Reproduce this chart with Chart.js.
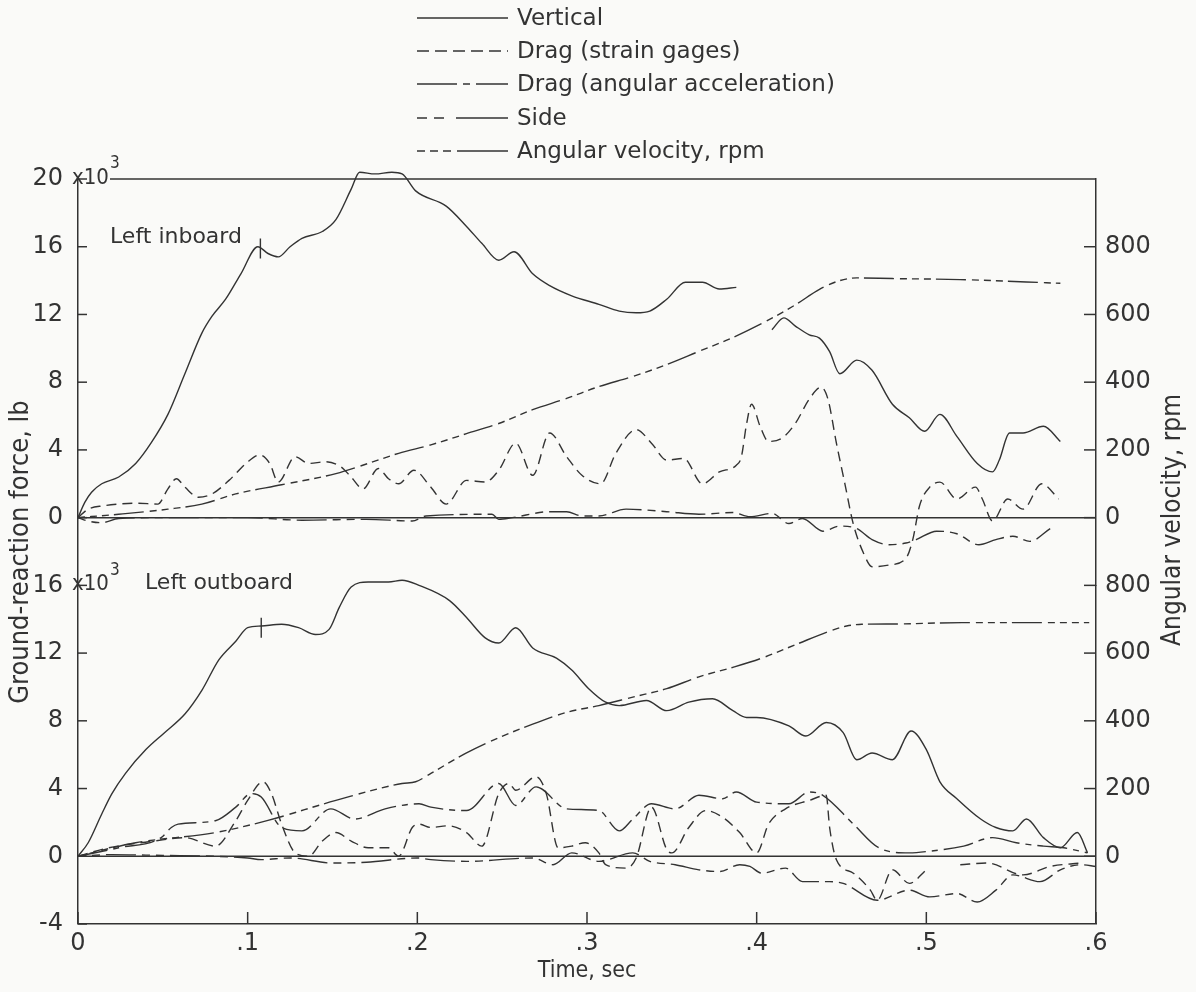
<!DOCTYPE html>
<html><head><meta charset="utf-8">
<style>html,body{margin:0;padding:0;background:#fafaf8;}canvas{display:block;}</style>
<script src="https://cdn.jsdelivr.net/npm/chart.js@4.4.1/dist/chart.umd.min.js"></script>
</head><body>
<canvas id="c" width="1196" height="992"></canvas>
<script>
// ---------- tick labels ----------
const timeTicks = [0, 0.1, 0.2, 0.3, 0.4, 0.5, 0.6];
const timeTickLabels = ['0', '.1', '.2', '.3', '.4', '.5', '.6'];
const forceTicksTop = [0, 4, 8, 12, 16, 20];
const forceTicksBottom = [-4, 0, 4, 8, 12, 16];
const rpmTicks = [0, 200, 400, 600, 800];
const seriesNames = ['Vertical', 'Drag (strain gages)', 'Drag (angular acceleration)', 'Side', 'Angular velocity, rpm'];
const panelLabels = ['Left inboard', 'Left outboard'];

// ---------- top panel (Left inboard): [time s, force 10^3 lb] ----------
const inVertical = [[0,0],[0.004,0.9],[0.008,1.5],[0.014,2.0],[0.024,2.4],[0.034,3.2],[0.043,4.4],[0.053,6.1],[0.063,8.5],[0.073,10.9],[0.079,11.9],[0.087,12.9],[0.096,14.4],[0.106,16.0],[0.112,15.6],[0.118,15.4],[0.125,16.0],[0.132,16.5],[0.144,16.9],[0.152,17.6],[0.161,19.4],[0.166,20.4],[0.175,20.3],[0.185,20.4],[0.191,20.3],[0.199,19.3],[0.217,18.4],[0.229,17.2],[0.238,16.2],[0.248,15.2],[0.257,15.7],[0.268,14.4],[0.278,13.7],[0.291,13.1],[0.307,12.6],[0.319,12.2],[0.329,12.1],[0.337,12.2],[0.347,12.9],[0.358,13.9],[0.368,13.9],[0.378,13.5],[0.388,13.6],[0.398,null],[0.409,11.1],[0.416,11.8],[0.423,11.3],[0.431,10.8],[0.437,10.6],[0.443,9.8],[0.449,8.5],[0.459,9.3],[0.468,8.7],[0.480,6.7],[0.490,5.9],[0.499,5.1],[0.508,6.1],[0.518,4.8],[0.530,3.2],[0.539,2.7],[0.543,3.4],[0.549,5.0],[0.557,5.0],[0.569,5.4],[0.579,4.5]];
const inDragStrain = [[0,0],[0.006,0.5],[0.015,0.7],[0.024,0.8],[0.035,0.85],[0.047,0.8],[0.053,1.7],[0.058,2.3],[0.063,1.8],[0.071,1.2],[0.079,1.4],[0.089,2.2],[0.099,3.2],[0.107,3.7],[0.113,3.2],[0.118,2.1],[0.128,3.6],[0.136,3.2],[0.146,3.3],[0.155,3.0],[0.161,2.4],[0.168,1.7],[0.177,2.9],[0.183,2.3],[0.189,2.0],[0.198,2.8],[0.208,1.8],[0.217,0.8],[0.229,2.2],[0.240,2.1],[0.248,2.8],[0.258,4.4],[0.268,2.5],[0.278,5.0],[0.288,3.6],[0.297,2.5],[0.308,2.0],[0.317,3.8],[0.329,5.2],[0.338,4.4],[0.347,3.4],[0.357,3.5],[0.368,2.0],[0.378,2.7],[0.388,3.1],[0.391,3.6],[0.394,5.5],[0.397,6.7],[0.402,5.4],[0.407,4.5],[0.415,4.7],[0.423,5.6],[0.431,7.0],[0.438,7.7],[0.442,7.0],[0.447,4.4],[0.452,2.0],[0.457,-0.4],[0.463,-2.1],[0.468,-2.9],[0.478,-2.8],[0.488,-2.4],[0.492,-1.3],[0.496,0.7],[0.502,1.8],[0.508,2.1],[0.518,1.1],[0.529,1.8],[0.533,1.1],[0.539,-0.2],[0.548,1.1],[0.557,0.5],[0.568,2.0],[0.578,1.1]];
const inSide = [[0,0],[0.006,-0.2],[0.014,-0.3],[0.024,-0.05],[0.05,0],[0.1,0],[0.132,-0.15],[0.17,-0.1],[0.197,-0.2],[0.205,0.1],[0.244,0.2],[0.248,-0.1],[0.256,0],[0.278,0.35],[0.288,0.35],[0.297,0.1],[0.307,0.1],[0.323,0.5],[0.347,0.35],[0.366,0.2],[0.386,0.3],[0.396,0.05],[0.409,0.25],[0.419,-0.35],[0.427,-0.05],[0.439,-0.8],[0.449,-0.5],[0.459,-0.65],[0.468,-1.3],[0.478,-1.6],[0.488,-1.5],[0.494,-1.3],[0.506,-0.8],[0.518,-0.95],[0.531,-1.6],[0.541,-1.3],[0.551,-1.1],[0.561,-1.4],[0.573,-0.65]];
const inRpm = [[0,0],[0.024,10],[0.053,25],[0.073,40],[0.093,70],[0.12,97],[0.152,130],[0.171,160],[0.189,190],[0.208,215],[0.229,248],[0.248,278],[0.268,319],[0.288,352],[0.307,387],[0.327,417],[0.347,452],[0.366,491],[0.386,532],[0.403,573],[0.423,629],[0.437,674],[0.449,700],[0.459,708],[0.48,706],[0.52,703],[0.579,692]];
const inMarker = [[0.1075,15.9]];

// ---------- bottom panel (Left outboard) ----------
const outVertical = [[0,0],[0.006,0.8],[0.014,2.5],[0.02,3.7],[0.028,4.9],[0.04,6.3],[0.051,7.3],[0.063,8.4],[0.073,9.8],[0.083,11.6],[0.093,12.7],[0.1,13.5],[0.108,13.6],[0.12,13.7],[0.13,13.5],[0.14,13.1],[0.148,13.4],[0.154,14.7],[0.161,15.9],[0.171,16.2],[0.183,16.2],[0.191,16.3],[0.201,16.0],[0.219,15.1],[0.229,14.1],[0.240,12.9],[0.248,12.6],[0.258,13.5],[0.268,12.3],[0.282,11.7],[0.291,11.0],[0.301,9.9],[0.311,9.1],[0.319,8.9],[0.335,9.2],[0.347,8.6],[0.360,9.1],[0.374,9.3],[0.386,8.6],[0.394,8.2],[0.40,8.2],[0.419,7.7],[0.429,7.1],[0.441,7.9],[0.451,7.3],[0.459,5.7],[0.468,6.1],[0.48,5.7],[0.491,7.4],[0.50,6.3],[0.508,4.4],[0.518,3.4],[0.532,2.2],[0.541,1.7],[0.551,1.5],[0.559,2.2],[0.569,1.1],[0.579,0.5],[0.589,1.4],[0.595,0.2]];
const outDragStrain = [[0,0],[0.018,0.5],[0.045,0.9],[0.063,1.1],[0.081,0.6],[0.093,2.1],[0.10,3.3],[0.109,4.4],[0.114,3.7],[0.12,1.9],[0.128,0.2],[0.136,0],[0.144,0.9],[0.152,1.4],[0.161,0.9],[0.171,0.5],[0.183,0.5],[0.189,0],[0.197,1.7],[0.201,1.9],[0.208,1.7],[0.218,1.8],[0.229,1.4],[0.238,0.6],[0.248,3.7],[0.254,4.3],[0.258,3.9],[0.27,4.7],[0.276,3.7],[0.283,0.5],[0.291,0.6],[0.299,0.8],[0.307,0.2],[0.311,-0.5],[0.323,-0.7],[0.329,-0.1],[0.338,2.9],[0.347,0.4],[0.350,0.2],[0.360,1.7],[0.370,2.7],[0.38,2.3],[0.39,1.4],[0.40,0.2],[0.407,1.9],[0.417,2.8],[0.431,3.3],[0.441,3.6],[0.443,1.7],[0.447,-0.2],[0.457,-1.0],[0.467,-2.0],[0.471,-2.6],[0.48,-0.8],[0.49,-1.6],[0.50,-0.8],[0.51,null],[0.52,-0.5],[0.536,-0.4],[0.557,-1.1],[0.573,-0.6],[0.591,-0.4]];
const outDragAngAcc = [[0,0],[0.024,0.5],[0.049,1.1],[0.055,1.7],[0.059,1.9],[0.081,2.1],[0.093,2.9],[0.102,3.7],[0.108,3.5],[0.12,1.7],[0.132,1.5],[0.149,2.8],[0.163,2.2],[0.181,2.8],[0.201,3.1],[0.208,2.9],[0.229,2.7],[0.248,4.3],[0.258,3.0],[0.27,4.1],[0.288,2.8],[0.307,2.7],[0.319,1.5],[0.327,2.2],[0.338,3.1],[0.352,2.8],[0.366,3.6],[0.380,3.4],[0.388,3.8],[0.40,3.2],[0.419,3.1],[0.431,3.8],[0.439,3.6],[0.457,1.9],[0.472,0.5],[0.49,0.2],[0.502,0.3],[0.522,0.6],[0.539,1.1],[0.553,0.8],[0.569,0.6],[0.581,0.5],[0.595,0.2]];
const outSide = [[0,0],[0.02,0.1],[0.05,0.05],[0.08,0],[0.1,-0.1],[0.108,-0.2],[0.125,-0.1],[0.15,-0.4],[0.17,-0.35],[0.2,-0.1],[0.208,-0.2],[0.229,-0.3],[0.268,-0.1],[0.28,-0.5],[0.291,0.2],[0.307,-0.3],[0.327,0.2],[0.337,-0.3],[0.352,-0.5],[0.366,-0.8],[0.378,-0.9],[0.39,-0.5],[0.396,-0.6],[0.403,-1.0],[0.417,-0.7],[0.427,-1.5],[0.443,-1.5],[0.451,-1.6],[0.471,-2.6],[0.49,-2.0],[0.502,-2.4],[0.518,-2.2],[0.53,-2.7],[0.541,-2.0],[0.551,-1.1],[0.567,-1.5],[0.579,-0.8],[0.591,-0.5],[0.6,-0.6]];
const outRpm = [[0,0],[0.034,40],[0.081,70],[0.112,106],[0.152,165],[0.191,215],[0.199,220],[0.208,245],[0.229,305],[0.248,350],[0.268,390],[0.288,425],[0.307,445],[0.327,470],[0.347,495],[0.366,530],[0.386,558],[0.403,585],[0.423,625],[0.443,665],[0.453,680],[0.462,685],[0.482,686],[0.521,690],[0.561,690],[0.596,690]];
const outMarker = [[0.108,13.5]];

const INK = '#333333';
const FONT = "'DejaVu Sans', 'Liberation Sans', sans-serif";
const TFONT = "'DejaVu Sans Condensed', 'Liberation Sans Narrow', 'DejaVu Sans', sans-serif";
const dashes = [[], [10, 6], [30, 6, 6, 6], [8, 6, 8, 6, 30, 6], [7, 5, 7, 5, 7, 5, 30, 6]];
const legendDash = [[], [12, 6], [40, 6, 7, 6, 200, 10], [10, 7, 10, 12, 200, 10], [8, 5, 8, 5, 8, 6, 200, 10]];

function pts(a) { return a.map(p => ({x: p[0], y: p[1]})); }
function ds(label, data, y, styleIdx) {
  return {label, data: pts(data), yAxisID: y, xAxisID: 'x', borderColor: INK, borderWidth: 1.4,
    borderDash: dashes[styleIdx], pointRadius: 0, fill: false, spanGaps: false,
    cubicInterpolationMode: 'monotone', clip: 14};
}
function marker(data, y) {
  return {label: 'marker', data: pts(data), yAxisID: y, xAxisID: 'x', showLine: false,
    pointStyle: 'line', rotation: 90, pointRadius: 10, borderColor: INK, borderWidth: 1.4, clip: 14};
}

const datasets = [
  ds(seriesNames[0], inVertical, 'yTop', 0),
  ds(seriesNames[1], inDragStrain, 'yTop', 1),
  ds(seriesNames[3], inSide, 'yTop', 3),
  ds(seriesNames[4], inRpm, 'rTop', 4),
  marker(inMarker, 'yTop'),
  ds(seriesNames[0], outVertical, 'yBot', 0),
  ds(seriesNames[1], outDragStrain, 'yBot', 1),
  ds(seriesNames[2], outDragAngAcc, 'yBot', 2),
  ds(seriesNames[3], outSide, 'yBot', 3),
  ds(seriesNames[4], outRpm, 'rBot', 4),
  marker(outMarker, 'yBot')
];

function fixTicks(list) { return s => { s.ticks = list.map(v => ({value: v})); }; }
const tickFont = {family: FONT, size: 24};
function yScale(pos, stack, weight, sw, min, max, list, pad, width) {
  return {type: 'linear', position: pos, stack, weight, stackWeight: sw, min, max,
    afterBuildTicks: fixTicks(list), afterFit: s => { s.width = width; },
    grid: {display: false, drawTicks: false},
    border: {display: true, color: INK, width: 1.5},
    ticks: {font: tickFont, color: INK, padding: pad, callback: v => String(v)}};
}

const frame = {
  id: 'frame',
  afterDraw(chart) {
    const ctx = chart.ctx, s = chart.scales, a = chart.chartArea;
    ctx.save();
    ctx.strokeStyle = INK; ctx.lineWidth = 1.5; ctx.setLineDash([]);
    const L = (x1, y1, x2, y2) => { ctx.beginPath(); ctx.moveTo(x1, y1); ctx.lineTo(x2, y2); ctx.stroke(); };
    const yt = s.yTop.getPixelForValue(20);
    L(a.left + 32, yt, a.right, yt);
    ['yTop', 'yBot'].forEach(id => { const y = s[id].getPixelForValue(0); L(a.left, y, a.right, y); });
    [['yTop', forceTicksTop], ['yBot', forceTicksBottom]].forEach(([id, list]) =>
      list.forEach(v => { const y = s[id].getPixelForValue(v); L(a.left, y, a.left + 9, y); }));
    ['rTop', 'rBot'].forEach(id => rpmTicks.forEach(v => { const y = s[id].getPixelForValue(v); L(a.right - 12, y, a.right, y); }));
    timeTicks.forEach(t => { const x = s.x.getPixelForValue(t); L(x, a.bottom, x, a.bottom - 12); });

    ctx.fillStyle = INK; ctx.textBaseline = 'middle'; ctx.textAlign = 'left';
    // x10^3 multipliers
    [['yTop', 20], ['yBot', 16]].forEach(([id, v]) => {
      const y = s[id].getPixelForValue(v) - 1;
      ctx.font = `22px ${TFONT}`; ctx.fillText('x10', 72, y);
      const w = ctx.measureText('x10').width;
      ctx.font = `17px ${TFONT}`; ctx.fillText('3', 72 + w + 1, y - 14);
    });
    // panel labels
    ctx.font = `22px ${FONT}`;
    ctx.fillText(panelLabels[0], 110, 237);
    ctx.fillText(panelLabels[1], 145, 583);
    // axis titles
    ctx.font = `27px ${TFONT}`; ctx.textAlign = 'center';
    ctx.save(); ctx.translate(21, 552); ctx.rotate(-Math.PI / 2); ctx.fillText('Ground-reaction force, lb', 0, 0); ctx.restore();
    ctx.font = `26px ${TFONT}`;
    ctx.save(); ctx.translate(1173, 520); ctx.rotate(-Math.PI / 2); ctx.fillText('Angular velocity, rpm', 0, 0); ctx.restore();
    // legend
    const rows = [18, 51, 84, 118, 151];
    ctx.textAlign = 'left'; ctx.font = `23px ${FONT}`;
    seriesNames.forEach((n, i) => {
      ctx.setLineDash(legendDash[i]);
      L(417, rows[i], 508, rows[i]);
      ctx.setLineDash([]);
      ctx.fillText(n, 517, rows[i] + 1);
    });
    ctx.restore();
  }
};

new Chart(document.getElementById('c'), {
  type: 'line',
  data: {datasets},
  options: {
    responsive: false, animation: false, devicePixelRatio: 1,
    layout: {padding: {top: 179, left: 0, right: 0, bottom: 0}},
    plugins: {legend: {display: false}, tooltip: {enabled: false}},
    scales: {
      x: {type: 'linear', position: 'bottom', min: 0, max: 0.6,
        afterBuildTicks: fixTicks(timeTicks), afterFit: s => { s.height = 68; },
        grid: {display: false, drawTicks: false},
        border: {display: true, color: INK, width: 1.5},
        ticks: {font: tickFont, color: INK, padding: 5, maxRotation: 0, autoSkip: false,
          callback: (v, i) => timeTickLabels[i]},
        title: {display: true, text: 'Time, sec', font: {family: TFONT, size: 23}, color: INK, padding: {top: 0, bottom: 7}}},
      yTop: yScale('left', 'force', 2, 24, -4, 20, forceTicksTop, 15, 78),
      yBot: yScale('left', 'force', 1, 20, -4, 16, forceTicksBottom, 15, 78),
      rTop: yScale('right', 'rpm', 1, 24, -200, 1000, rpmTicks, 9, 100),
      rBot: yScale('right', 'rpm', 2, 20, -200, 800, rpmTicks, 9, 100)
    }
  },
  plugins: [frame]
});
</script>
</body></html>
